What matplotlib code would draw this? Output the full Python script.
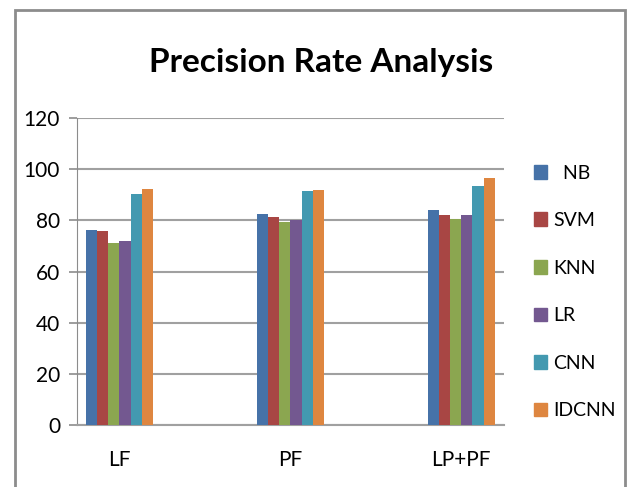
import matplotlib
matplotlib.use("Agg")
import matplotlib.pyplot as plt
from matplotlib import font_manager
from matplotlib.patches import Rectangle
import numpy as np

# data
categories = ["LF", "PF", "LP+PF"]
methods = ["NB", "SVM", "KNN", "LR", "CNN", "IDCNN"]
NB = [76.3, 82.6, 84.1]
SVM = [75.8, 81.2, 82.1]
KNN = [71.3, 79.3, 80.6]
LR = [72.0, 80.2, 82.1]
CNN = [90.1, 91.5, 93.5]
IDCNN = [92.4, 92.0, 96.4]
yticks = [0, 20, 40, 60, 80, 100, 120]

series = [NB, SVM, KNN, LR, CNN, IDCNN]
colors = ["#4672A8", "#A84644", "#8BA650", "#735890", "#4399B0", "#DE8640"]

names = {f.name for f in font_manager.fontManager.ttflist}
font = "Liberation Sans Narrow" if "Liberation Sans Narrow" in names else "Lato"
plt.rcParams["font.family"] = [font, "DejaVu Sans"]

fig = plt.figure(figsize=(6.27, 4.87), dpi=100)
ax = fig.add_axes([0.1223, 0.1273, 0.6815, 0.6304])

x = np.arange(len(categories))
w = 0.0658
for i, vals in enumerate(series):
    ax.bar(x + (i - 2.5) * w, vals, w, color=colors[i], label=methods[i], zorder=3)

ax.set_xlim(-0.25, 2.25)
ax.set_ylim(0, 120)
ax.set_yticks(yticks)
ax.set_xticks(x)
ax.set_xticklabels(categories, fontsize=15)
ax.tick_params(axis="x", length=0, pad=18)
ax.tick_params(axis="y", length=6, color="#8c8c8c", width=1.2, labelsize=15, pad=6)
ax.grid(axis="y", color="#a0a0a0", linewidth=1.5, zorder=0)
for s in ["top", "right"]:
    ax.spines[s].set_visible(False)
ax.spines["left"].set_color("#8c8c8c")
ax.spines["bottom"].set_color("#a0a0a0")
ax.spines["bottom"].set_linewidth(1.5)

fig.text(0.512, 0.872, "Precision Rate Analysis", ha="center", va="center",
         fontsize=24, fontweight="bold")

# legend placed manually to the right
labels = ["  NB", "SVM", "KNN", "LR", "CNN", "IDCNN"]
handles = [Rectangle((0, 0), 1, 1, color=c) for c in colors]
leg = fig.legend(handles, labels, loc="upper left", bbox_to_anchor=(0.823, 0.698),
                 frameon=False, fontsize=14, handlelength=0.7, handleheight=0.7,
                 handletextpad=0.3, labelspacing=1.57)

fig.patches.append(Rectangle((15 / 627, -0.05), 610 / 627, 1.03, transform=fig.transFigure,
                             fill=False, edgecolor="#8c8c8c", linewidth=2))

fig.savefig("out.png", dpi=100)
